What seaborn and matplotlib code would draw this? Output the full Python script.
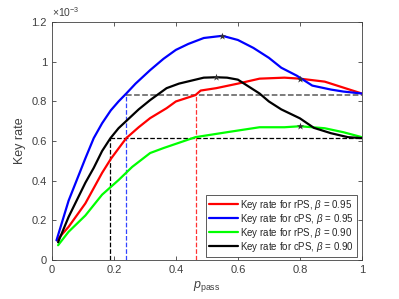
import numpy as np
import pandas as pd
import seaborn as sns
import matplotlib
matplotlib.use("Agg")
import matplotlib.pyplot as plt

# key rate curves, values in units of 1e-3
x_rps95 = [0.016, 0.054, 0.108, 0.162, 0.19, 0.216, 0.24, 0.28, 0.317, 0.37, 0.40, 0.463, 0.48, 0.53, 0.60, 0.67, 0.75, 0.80, 0.88, 0.94, 1.0]
y_rps95 = [0.10, 0.168, 0.286, 0.44, 0.51, 0.565, 0.615, 0.67, 0.716, 0.766, 0.80, 0.832, 0.855, 0.867, 0.89, 0.915, 0.92, 0.915, 0.90, 0.87, 0.84]

x_cps95 = [0.015, 0.054, 0.108, 0.135, 0.162, 0.19, 0.215, 0.24, 0.27, 0.317, 0.36, 0.40, 0.44, 0.49, 0.55, 0.60, 0.65, 0.70, 0.74, 0.79, 0.84, 0.90, 0.94, 1.0]
y_cps95 = [0.10, 0.30, 0.513, 0.615, 0.69, 0.755, 0.80, 0.84, 0.89, 0.958, 1.015, 1.06, 1.09, 1.12, 1.131, 1.11, 1.07, 1.02, 0.97, 0.93, 0.88, 0.86, 0.85, 0.84]

x_rps90 = [0.02, 0.054, 0.108, 0.162, 0.216, 0.259, 0.317, 0.36, 0.463, 0.565, 0.67, 0.75, 0.80, 0.88, 0.94, 1.0]
y_rps90 = [0.075, 0.143, 0.225, 0.33, 0.405, 0.47, 0.54, 0.565, 0.62, 0.645, 0.67, 0.67, 0.675, 0.665, 0.645, 0.62]

x_cps90 = [0.02, 0.054, 0.108, 0.135, 0.162, 0.189, 0.215, 0.243, 0.28, 0.317, 0.37, 0.41, 0.45, 0.49, 0.53, 0.565, 0.60, 0.63, 0.67, 0.70, 0.74, 0.80, 0.845, 0.90, 0.955, 1.0]
y_cps90 = [0.09, 0.218, 0.39, 0.465, 0.55, 0.615, 0.665, 0.706, 0.76, 0.807, 0.867, 0.89, 0.905, 0.92, 0.922, 0.92, 0.91, 0.88, 0.84, 0.80, 0.76, 0.715, 0.667, 0.64, 0.62, 0.615]

labels = [r"Key rate for rPS, $\beta$ = 0.95", r"Key rate for cPS, $\beta$ = 0.95",
          r"Key rate for rPS, $\beta$ = 0.90", r"Key rate for cPS, $\beta$ = 0.90"]
colors = ["red", "blue", "lime", "black"]

# marked points (asterisks)
star_x = [0.80, 0.55, 0.80, 0.53]
star_y = [0.915, 1.131, 0.675, 0.922]

# threshold guides
level_hi = 0.835
level_lo = 0.615
p_blue = 0.24
p_red = 0.465
p_black = 0.189

frames = []
for lab, xs, ys in zip(labels, [x_rps95, x_cps95, x_rps90, x_cps90],
                       [y_rps95, y_cps95, y_rps90, y_cps90]):
    frames.append(pd.DataFrame({"p": xs, "rate": ys, "curve": lab}))
df = pd.concat(frames, ignore_index=True)

sns.set_style("ticks")
plt.rcParams["font.family"] = ["Liberation Sans", "DejaVu Sans"]
plt.rcParams["mathtext.fontset"] = "custom"
plt.rcParams["mathtext.rm"] = "Liberation Sans"
plt.rcParams["mathtext.it"] = "Liberation Sans:italic"

fig = plt.figure(figsize=(3.99, 2.99), dpi=100)
ax = fig.add_axes([0.130, 0.130, 0.777, 0.796])

# dashed guide lines
ax.plot([p_blue, 1], [level_hi, level_hi], ls="--", color="0.35", lw=1.1)
ax.plot([p_black, 1], [level_lo, level_lo], ls="--", color="black", lw=0.9)
ax.plot([p_blue, p_blue], [0, level_hi], ls="--", color="#3344ff", lw=0.9)
ax.plot([p_red, p_red], [0, level_hi], ls="--", color="#ff3333", lw=0.9)
ax.plot([p_black, p_black], [0, level_lo], ls="--", color="black", lw=0.9)

sns.lineplot(data=df, x="p", y="rate", hue="curve", hue_order=labels,
             palette=colors, lw=1.6, sort=False, ax=ax)
ax.scatter(star_x, star_y, marker="*", s=30, color="0.2", zorder=5, linewidths=0)

ax.set_xlim(0, 1)
ax.set_ylim(0, 1.2)
ax.set_xticks([0, 0.2, 0.4, 0.6, 0.8, 1])
ax.set_xticklabels(["0", "0.2", "0.4", "0.6", "0.8", "1"])
ax.set_yticks([0, 0.2, 0.4, 0.6, 0.8, 1, 1.2])
ax.set_yticklabels(["0", "0.2", "0.4", "0.6", "0.8", "1", "1.2"])
ax.tick_params(direction="in", top=True, right=True, labelsize=8,
               colors="0.25", length=3, width=0.6)
for s in ax.spines.values():
    s.set_color("0.25")
    s.set_linewidth(0.6)

ax.set_xlabel(r"$p_{\mathrm{pass}}$", fontsize=9, color="0.25", labelpad=3)
ax.set_ylabel("Key rate", fontsize=9, color="0.25", labelpad=4)
ax.text(0.0, 1.012, r"$\times10^{-3}$", transform=ax.transAxes,
        fontsize=7.5, color="0.25", ha="left", va="bottom")

leg = ax.legend(loc="lower right", bbox_to_anchor=(0.984, 0.015), fontsize=7,
                frameon=True, fancybox=False, edgecolor="0.25", framealpha=1,
                handlelength=3.0, handletextpad=0.2, labelspacing=0.0,
                borderpad=0.3, borderaxespad=0)
leg.get_frame().set_linewidth(0.6)

fig.savefig("out.png", dpi=100)
